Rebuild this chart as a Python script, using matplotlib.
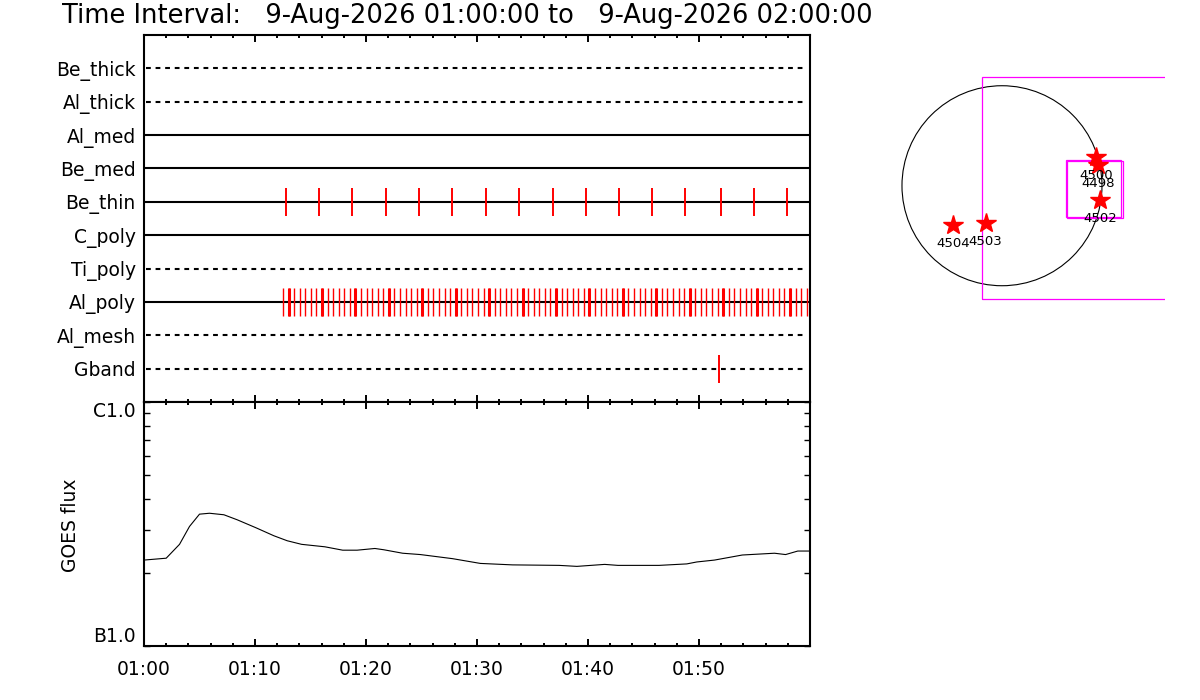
import matplotlib
matplotlib.use("Agg")
import matplotlib.pyplot as plt
from matplotlib.patches import Circle, Rectangle
import numpy as np

plt.rcParams['font.family'] = ['DejaVu Sans']

# ---------------- data ----------------
title_text = "Time Interval:   9-Aug-2026 01:00:00 to   9-Aug-2026 02:00:00"

rows = ["Gband", "Al_mesh", "Al_poly", "Ti_poly", "C_poly",
        "Be_thin", "Be_med", "Al_med", "Al_thick", "Be_thick"]
row_dashed = [True, True, False, True, False, False, False, False, True, True]

# exposure times, minutes after 01:00
be_thin_times = [12.78, 15.81, 18.76, 21.80, 24.81, 27.75, 30.80, 33.77,
                 36.81, 39.78, 42.76, 45.77, 48.74, 52.01, 54.92, 57.93]
al_poly_times = [12.52, 13.02, 13.52, 14.03, 14.53, 15.03, 15.53, 16.03, 16.54, 17.04,
                 17.54, 18.04, 18.54, 19.05, 19.55, 20.05, 20.55, 21.05, 21.56, 22.06,
                 22.56, 23.06, 23.56, 24.07, 24.57, 25.07, 25.57, 26.07, 26.58, 27.08,
                 27.58, 28.08, 28.58, 29.09, 29.59, 30.09, 30.59, 31.09, 31.60, 32.10,
                 32.60, 33.10, 33.60, 34.11, 34.61, 35.11, 35.61, 36.11, 36.62, 37.12,
                 37.62, 38.12, 38.62, 39.13, 39.63, 40.13, 40.63, 41.13, 41.64, 42.14,
                 42.64, 43.14, 43.64, 44.15, 44.65, 45.15, 45.65, 46.15, 46.66, 47.16,
                 47.66, 48.16, 48.66, 49.17, 49.67, 50.17, 50.67, 51.17, 51.68, 52.18,
                 52.68, 53.18, 53.68, 54.19, 54.69, 55.19, 55.69, 56.19, 56.70, 57.20,
                 57.70, 58.20, 58.70, 59.21, 59.71]
al_poly_double = [13.02, 16.03, 19.05, 22.06, 25.07, 28.08, 31.09, 34.11,
                  37.12, 40.13, 43.14, 46.15, 49.17, 52.18, 55.19, 58.20]
gband_times = [51.84]

goes_t = [0.0, 2.0, 3.2, 4.1, 5.0, 5.9, 7.2, 8.4, 10.1, 11.7, 12.9, 14.2, 16.3,
          17.9, 19.2, 20.8, 21.6, 23.3, 24.9, 27.8, 30.3, 33.2, 37.4, 39.0, 41.5,
          42.7, 46.4, 48.9, 49.8, 51.4, 53.9, 56.8, 57.8, 58.9, 60.0]
goes_flux = [2.25e-7, 2.29e-7, 2.61e-7, 3.09e-7, 3.47e-7, 3.50e-7, 3.45e-7, 3.29e-7,
             3.05e-7, 2.83e-7, 2.70e-7, 2.61e-7, 2.55e-7, 2.47e-7, 2.47e-7, 2.51e-7,
             2.48e-7, 2.40e-7, 2.37e-7, 2.28e-7, 2.18e-7, 2.15e-7, 2.14e-7, 2.12e-7,
             2.16e-7, 2.14e-7, 2.14e-7, 2.17e-7, 2.21e-7, 2.25e-7, 2.36e-7, 2.40e-7,
             2.37e-7, 2.45e-7, 2.45e-7]

time_ticks = [0, 10, 20, 30, 40, 50]
time_labels = ["01:00", "01:10", "01:20", "01:30", "01:40", "01:50"]

# solar map (arcsec)
sun_radius = 960
ar_ids = ["4500", "4498", "4502", "4504", "4503"]
ar_x = [902, 922, 941, -468, -157]
ar_y = [276, 199, -137, -377, -361]
fov_big = (-189, -1091, 3000, 2132)        # x0, y0, w, h
fov_small = [(611, -298, 531, 545), (627, -307, 532, 542)]

# ---------------- figure ----------------
W, H = 1200, 700
fig = plt.figure(figsize=(12, 7), dpi=100)

def px_axes(x0, y0, x1, y1):
    return fig.add_axes([x0 / W, 1 - y1 / H, (x1 - x0) / W, (y1 - y0) / H])

fs = 13.5
ax1 = px_axes(144, 35, 810, 402)
ax2 = px_axes(144, 402, 810, 646)

for ax in (ax1, ax2):
    for s in ax.spines.values():
        s.set_linewidth(1.5)
    ax.set_xlim(0, 60)
    ax.set_xticks(time_ticks + [60])
    ax.set_xticks(np.arange(0, 61, 2), minor=True)

# top panel
ax1.set_ylim(0, 11)
ypos = list(range(1, len(rows) + 1))
for y, dashed in zip(ypos, row_dashed):
    if dashed:
        ax1.plot([0.2, 59.6], [y, y], color='black', lw=1.5, dashes=(2.3, 2.3))
    else:
        ax1.plot([0, 60], [y, y], color='black', lw=1.5)

hl = 0.42
def ticks(times, row, lw):
    y = ypos[rows.index(row)]
    ax1.vlines(times, y - hl, y + hl, color='red', lw=lw)

ticks(be_thin_times, "Be_thin", 1.4)
ticks(al_poly_times, "Al_poly", 1.0)
ticks(al_poly_double, "Al_poly", 2.2)
ticks(gband_times, "Gband", 1.4)

ax1.set_yticks(ypos)
ax1.set_yticklabels(rows, fontsize=fs)
ax1.tick_params(axis='y', length=0, pad=6)
ax1.tick_params(axis='x', which='both', direction='in', top=True, bottom=True,
                labelbottom=False, width=1.4)
ax1.tick_params(axis='x', which='major', length=5)
ax1.tick_params(axis='x', which='minor', length=2.5)

# GOES panel
ax2.plot(goes_t, goes_flux, color='black', lw=0.8)
ax2.set_yscale('log')
ax2.set_ylim(1e-7, 1e-6)
ax2.set_yticks([1e-7, 1e-6])
ax2.set_yticklabels(["B1.0", "C1.0"], fontsize=fs)
ax2.set_yticks([k * 1e-7 for k in range(2, 10)], minor=True)
ax2.yaxis.set_minor_formatter(matplotlib.ticker.NullFormatter())
ax2.tick_params(axis='y', which='both', direction='in', left=True, right=True,
                length=4, width=1, pad=6)
ax2.set_xticklabels(time_labels + [""], fontsize=fs)
ax2.tick_params(axis='x', which='both', direction='in', top=True, bottom=True, width=1.4)
ax2.tick_params(axis='x', which='major', length=5, pad=10)
ax2.tick_params(axis='x', which='minor', length=2.5)
labs = ax2.get_yticklabels()
labs[0].set_verticalalignment('bottom')
labs[1].set_verticalalignment('top')

fig.text(70 / W, 1 - 525 / H, "GOES flux", rotation=90, ha='center', va='center',
         fontsize=fs)

fig.text(62 / W, 1 - 16 / H, title_text, ha='left', va='center', fontsize=18.5)

# solar map
ax3 = px_axes(890, 70, 1165, 305)
ax3.set_xlim(-1075, 1565)
ax3.set_ylim(-1145, 1111)
ax3.axis('off')
ax3.add_patch(Circle((0, 0), sun_radius, fill=False, color='black', lw=0.8))
ax3.add_patch(Rectangle(fov_big[:2], fov_big[2], fov_big[3], fill=False,
                        edgecolor='#ff00ff', lw=0.9))
for r in fov_small:
    ax3.add_patch(Rectangle(r[:2], r[2], r[3], fill=False, edgecolor='#ff00ff', lw=0.9))
ax3.plot(ar_x, ar_y, linestyle='none', marker='*', ms=15, color='red', mec='red')
for name, x, y in zip(ar_ids, ar_x, ar_y):
    ax3.text(x, y - 175, name, ha='center', va='center', fontsize=9.5)

fig.savefig("out.png", dpi=100)
